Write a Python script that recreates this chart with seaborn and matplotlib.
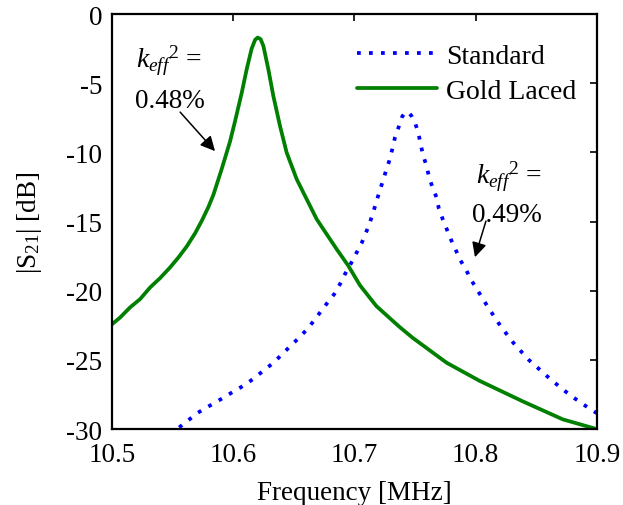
import matplotlib
matplotlib.use("Agg")
import matplotlib.pyplot as plt
import seaborn as sns
import pandas as pd

# Measured |S21| of the two resonator variants
freq_standard = [10.5553, 10.5630, 10.5707, 10.5781, 10.5863, 10.5940, 10.6022, 10.6102,
                 10.6173, 10.6248, 10.6325, 10.6396, 10.6465, 10.6536, 10.6605, 10.6663,
                 10.6720, 10.6778, 10.6833, 10.6880, 10.6921, 10.6968, 10.7011, 10.7059,
                 10.7086, 10.7122, 10.7150, 10.7177, 10.7204, 10.7232, 10.7260, 10.7287,
                 10.7312, 10.7334, 10.7367, 10.7394, 10.7420, 10.7444, 10.7470, 10.7499,
                 10.7526, 10.7546, 10.7567, 10.7595, 10.7614, 10.7644, 10.7677, 10.7696,
                 10.7726, 10.7759, 10.7792, 10.7833, 10.7868, 10.7918, 10.7959, 10.8006,
                 10.8103, 10.8186, 10.8249, 10.8310, 10.8387, 10.8439, 10.8516, 10.8579,
                 10.8653, 10.8722, 10.8804, 10.8854, 10.8928, 10.9000]
s21_standard = [-29.88, -29.35, -28.82, -28.43, -28.02, -27.61, -27.18, -26.77,
                -26.31, -25.78, -25.25, -24.65, -24.05, -23.45, -22.82, -22.19,
                -21.52, -20.85, -20.24, -19.52, -18.80, -18.07, -17.35, -16.55,
                -16.00, -15.18, -14.46, -13.66, -12.89, -12.12, -11.33, -10.60,
                -9.76, -8.92, -8.10, -7.40, -7.10, -7.08, -7.35, -7.83,
                -8.55, -9.40, -10.24, -10.97, -11.73, -12.53, -13.25, -14.05,
                -14.77, -15.49, -16.22, -16.99, -17.71, -18.43, -19.16, -19.83,
                -21.20, -22.30, -23.05, -23.75, -24.50, -25.00, -25.60, -26.10,
                -26.65, -27.15, -27.70, -28.00, -28.45, -28.85]

freq_gold = [10.5000, 10.5066, 10.5148, 10.5231, 10.5313, 10.5396, 10.5478, 10.5547,
             10.5615, 10.5684, 10.5739, 10.5794, 10.5836, 10.5904, 10.5973, 10.6014,
             10.6069, 10.6110, 10.6151, 10.6180, 10.6201, 10.6225, 10.6248, 10.6289,
             10.6330, 10.6385, 10.6440, 10.6523, 10.6605, 10.6688, 10.6770, 10.6853,
             10.6949, 10.7045, 10.7180, 10.7370, 10.7480, 10.7760, 10.8030, 10.8390,
             10.8720, 10.9000]
s21_gold = [-22.41, -21.93, -21.20, -20.60, -19.76, -19.08, -18.31, -17.59,
            -16.80, -15.85, -14.95, -13.95, -13.05, -11.20, -9.20, -7.75,
            -5.70, -4.00, -2.50, -1.85, -1.69, -1.80, -2.29, -3.98,
            -5.90, -8.07, -10.00, -11.93, -13.37, -14.82, -15.90, -16.99,
            -18.19, -19.60, -21.10, -22.60, -23.40, -25.20, -26.50, -28.00,
            -29.30, -30.00]

series_names = ["Standard", "Gold Laced"]
series_colors = {"Standard": "#0000FF", "Gold Laced": "#008000"}

df = pd.concat([
    pd.DataFrame({"Frequency": freq_standard, "S21": s21_standard, "Device": "Standard"}),
    pd.DataFrame({"Frequency": freq_gold, "S21": s21_gold, "Device": "Gold Laced"}),
], ignore_index=True)

sns.set_style("white")
plt.rcParams["font.family"] = ["Liberation Serif", "DejaVu Serif"]
plt.rcParams["mathtext.fontset"] = "custom"
plt.rcParams["mathtext.rm"] = "Liberation Serif"
plt.rcParams["mathtext.it"] = "Liberation Serif:italic"
plt.rcParams["axes.unicode_minus"] = False
for key in ["text.color", "axes.labelcolor", "xtick.color", "ytick.color"]:
    plt.rcParams[key] = "black"

fig = plt.figure(figsize=(6.23, 5.06), dpi=100)
ax = fig.add_axes([0.180, 0.150, 0.778, 0.820])

sns.lineplot(data=df, x="Frequency", y="S21", hue="Device", style="Device",
             hue_order=series_names, style_order=series_names,
             palette=series_colors,
             dashes={"Standard": (1.0, 2.2), "Gold Laced": ""},
             linewidth=2.7, sort=False, estimator=None, ax=ax)
for line in ax.lines:
    line.set_solid_joinstyle("round")

ax.set_xlim(10.5, 10.9)
ax.set_ylim(-30, 0)
ax.set_xticks([10.5, 10.6, 10.7, 10.8, 10.9])
ax.set_xticklabels(["10.5", "10.6", "10.7", "10.8", "10.9"])
ax.set_yticks([0, -5, -10, -15, -20, -25, -30])
ax.set_yticklabels(["0", "-5", "-10", "-15", "-20", "-25", "-30"])
ax.tick_params(direction="in", top=True, right=True, length=5, width=1.2,
               labelsize=19.5)
ax.tick_params(axis="x", pad=9)
ax.tick_params(axis="y", pad=7)
for sp in ax.spines.values():
    sp.set_color("black")
    sp.set_linewidth(1.6)

ax.set_xlabel("Frequency [MHz]", fontsize=19.5, labelpad=10)
ax.set_ylabel(r"|S$_{21}$| [dB]", fontsize=19.5, labelpad=16)

leg = ax.legend(loc="upper left", frameon=False, fontsize=20,
                handlelength=2.9, handletextpad=0.3, borderpad=0,
                borderaxespad=0, labelspacing=0.35,
                bbox_to_anchor=(0.505, 0.930))

# Coupling coefficient annotations
keff_label = r"$k_{eff}{}^{\mathrm{2}}$ ="
ax.text(10.520, -3.83, keff_label, fontsize=20, ha="left", va="baseline")
ax.text(10.519, -6.72, "0.48%", fontsize=19.5, ha="left", va="baseline")
ax.annotate("", xy=(10.5849, -9.90), xytext=(10.5561, -7.08),
            arrowprops=dict(arrowstyle="-|>", color="black", lw=1.1,
                            mutation_scale=22, shrinkA=0, shrinkB=0))

ax.text(10.800, -12.15, keff_label, fontsize=20, ha="left", va="baseline")
ax.text(10.797, -14.96, "0.49%", fontsize=19.5, ha="left", va="baseline")
ax.annotate("", xy=(10.7994, -17.57), xytext=(10.8085, -14.96),
            arrowprops=dict(arrowstyle="-|>", color="black", lw=1.1,
                            mutation_scale=22, shrinkA=0, shrinkB=0))

fig.savefig("out.png", dpi=100, facecolor="white")
